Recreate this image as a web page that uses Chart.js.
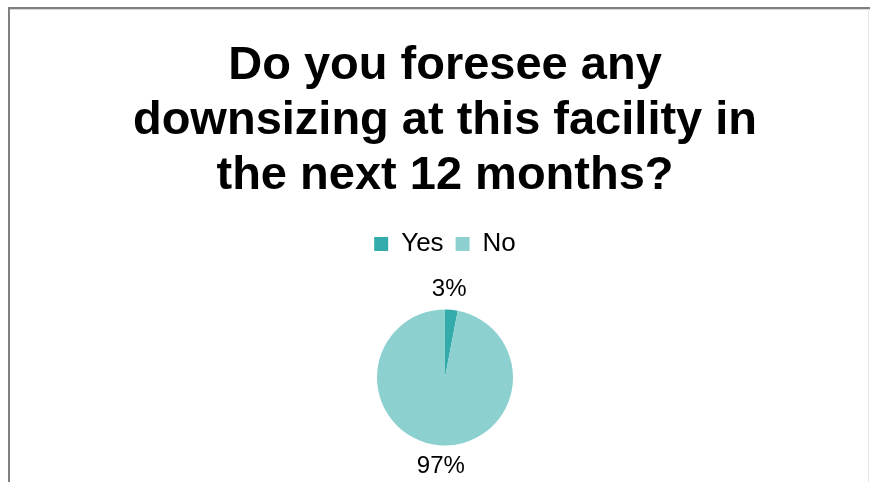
<!DOCTYPE html>
<html>
<head>
<meta charset="utf-8">
<script src="https://cdn.jsdelivr.net/npm/chart.js@4/dist/chart.umd.min.js"></script>
<style>
  html, body { margin: 0; padding: 0; background: #fff; }
  #wrap { width: 870px; height: 482px; position: relative; }
</style>
</head>
<body>
<div id="wrap"><canvas id="chart"></canvas></div>
<script>
// --- Survey data ---
const titleLines = ['Do you foresee any', 'downsizing at this facility in', 'the next 12 months?'];
const answers = ['Yes', 'No'];
const shares = [3, 97];
const sliceColors = ['#33abab', '#8dd0d0'];

const FONT = "'Liberation Sans', Arial, Helvetica, sans-serif";

// Frame lines round the plot area
const framePlugin = {
    id: 'frame',
    beforeDraw(chart) {
        const ctx = chart.ctx;
        ctx.save();
        ctx.fillStyle = '#ffffff';
        ctx.fillRect(0, 0, chart.width, chart.height);
        ctx.fillStyle = '#808080';
        ctx.fillRect(8, 7, chart.width - 8, 2);
        ctx.fillRect(8, 7, 2, chart.height - 7);
        ctx.fillStyle = '#d8d8d8';
        ctx.fillRect(10, 9, chart.width - 10, 1);
        ctx.fillStyle = '#e4e4e4';
        ctx.fillRect(chart.width - 2, 9, 1, chart.height - 9);
        ctx.restore();
    }
};

// Extra room under the legend before the pie starts
const legendGap = {
    id: 'legendGap',
    afterInit(chart) {
        const fit = chart.legend.fit;
        chart.legend.fit = function () {
            fit.call(this);
            this.height += 6;
        };
    }
};

// Percent labels placed just outside each slice
const sliceLabels = {
    id: 'sliceLabels',
    afterDatasetsDraw(chart) {
        const ctx = chart.ctx;
        const meta = chart.getDatasetMeta(0);
        const values = chart.data.datasets[0].data;
        const total = values.reduce((a, b) => a + b, 0);
        ctx.save();
        ctx.font = '24px ' + FONT;
        ctx.fillStyle = '#000';
        ctx.textAlign = 'center';
        ctx.textBaseline = 'middle';
        meta.data.forEach((arc, i) => {
            const mid = (arc.startAngle + arc.endAngle) / 2;
            const r = arc.outerRadius + 21;
            // nudge labels back toward the vertical axis
            const x = arc.x + Math.cos(mid) * r * 0.5;
            const y = arc.y + Math.sin(mid) * r;
            ctx.fillText(Math.round(values[i] / total * 100) + '%', x, y);
        });
        ctx.restore();
    }
};

new Chart(document.getElementById('chart'), {
    type: 'pie',
    data: {
        labels: answers,
        datasets: [{
            data: shares,
            backgroundColor: sliceColors,
            borderWidth: 0,
            radius: 68
        }]
    },
    options: {
        responsive: true,
        maintainAspectRatio: false,
        animation: false,
        layout: {
            padding: { left: 20, right: 0, top: 0, bottom: -8 }
        },
        plugins: {
            title: {
                display: true,
                text: titleLines,
                color: '#000',
                font: { family: FONT, size: 47, weight: 'bold', lineHeight: 1.17 },
                padding: { top: 39, bottom: 15 }
            },
            legend: {
                display: true,
                position: 'top',
                labels: {
                    color: '#000',
                    font: { family: FONT, size: 26 },
                    boxWidth: 14,
                    boxHeight: 14,
                    padding: 12
                }
            },
            tooltip: { enabled: false }
        }
    },
    plugins: [framePlugin, legendGap, sliceLabels]
});
</script>
</body>
</html>
